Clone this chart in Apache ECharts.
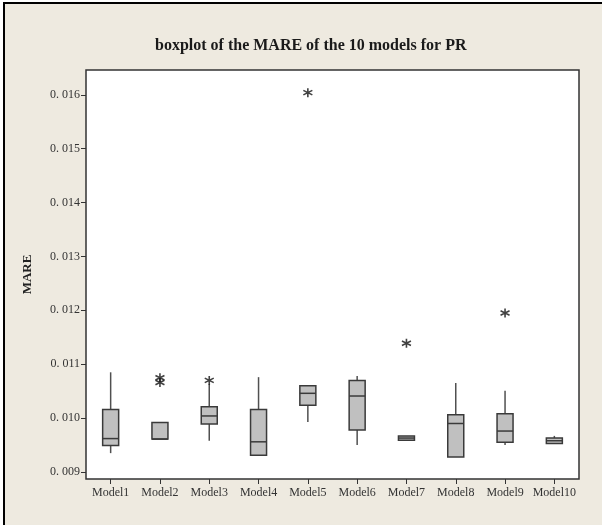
<!DOCTYPE html>
<html>
<head>
<meta charset="utf-8">
<script src="https://cdn.jsdelivr.net/npm/echarts@6/dist/echarts.min.js"></script>
<style>
  html, body { margin: 0; padding: 0; background: #ffffff; }
  #frame {
    position: absolute; left: 3px; top: 2px; width: 599px; height: 523px;
    border-left: 2px solid #000; border-top: 2px solid #000; background: #eeeae0;
  }
  #chart { position: absolute; left: -5px; top: -4px; width: 602px; height: 525px; }
</style>
</head>
<body>
<div id="frame"><div id="chart"></div></div>
<script>
// Model names along the x axis
const models = ['Model1', 'Model2', 'Model3', 'Model4', 'Model5',
                'Model6', 'Model7', 'Model8', 'Model9', 'Model10'];
// Five-number summaries of MARE per model: lower whisker, Q1, median, Q3, upper whisker
const whiskerLow  = [0.00935, 0.00961, 0.00958, 0.00931, 0.00993, 0.00950, 0.00959, 0.00928, 0.00950, 0.00953];
const quart1      = [0.00949, 0.00961, 0.00989, 0.00931, 0.01024, 0.00978, 0.00959, 0.00928, 0.00955, 0.00953];
const medians     = [0.00962, 0.00961, 0.01004, 0.00956, 0.01046, 0.01041, 0.00963, 0.00990, 0.00976, 0.00958];
const quart3      = [0.01016, 0.00992, 0.01021, 0.01016, 0.01060, 0.01070, 0.00967, 0.01006, 0.01008, 0.00963];
const whiskerHigh = [0.01085, 0.00992, 0.01063, 0.01076, 0.01060, 0.01078, 0.00967, 0.01065, 0.01051, 0.00967];
// Outliers: model index and MARE value
const outlierModel = [1, 1, 2, 4, 6, 8];
const outlierValue = [0.01075, 0.01066, 0.01070, 0.01604, 0.01139, 0.01195];
// Y axis range and labelled tick values
const yMin = 0.00887, yMax = 0.01646;
const yTicks = [0.009, 0.010, 0.011, 0.012, 0.013, 0.014, 0.015, 0.016];

const boxData = models.map((m, i) =>
  [i, whiskerLow[i], quart1[i], medians[i], quart3[i], whiskerHigh[i]]);
const outlierData = outlierModel.map((m, i) => [m, outlierValue[i]]);

const BOX_W = 16;
// Minitab-style box: whiskers without caps, filled box, median bar
function renderBox(params, api) {
  const i = api.value(0);
  const pLow = api.coord([i, api.value(1)]);
  const pQ1 = api.coord([i, api.value(2)]);
  const pMed = api.coord([i, api.value(3)]);
  const pQ3 = api.coord([i, api.value(4)]);
  const pHigh = api.coord([i, api.value(5)]);
  const cx = pQ1[0], h = BOX_W / 2;
  const whisker = { stroke: '#505050', lineWidth: 1.5 };
  const edge = { stroke: '#3a3a3a', lineWidth: 1.5 };
  return {
    type: 'group',
    children: [
      { type: 'line', shape: { x1: cx, y1: pQ3[1], x2: cx, y2: pHigh[1] }, style: whisker },
      { type: 'line', shape: { x1: cx, y1: pQ1[1], x2: cx, y2: pLow[1] }, style: whisker },
      { type: 'rect',
        shape: { x: cx - h, y: pQ3[1], width: BOX_W, height: Math.max(pQ1[1] - pQ3[1], 1) },
        style: Object.assign({ fill: '#c0c0c0' }, edge) },
      { type: 'line', shape: { x1: cx - h, y1: pMed[1], x2: cx + h, y2: pMed[1] }, style: edge }
    ]
  };
}

const serif = '"Liberation Serif", "Times New Roman", serif';
const chart = echarts.init(document.getElementById('chart'), null, { renderer: 'canvas' });
chart.setOption({
  backgroundColor: 'transparent',
  animation: false,
  title: {
    text: 'boxplot of the MARE of the 10 models for PR',
    left: 150, top: 33,
    textStyle: { fontFamily: serif, fontWeight: 'bold', fontSize: 16, color: '#1a1a1a' }
  },
  grid: { left: 86, top: 70, right: 23, bottom: 46, show: true,
          borderColor: '#333', borderWidth: 1.5, backgroundColor: '#ffffff' },
  xAxis: {
    type: 'category', data: models, boundaryGap: true,
    axisLine: { show: false },
    axisTick: { show: true, alignWithLabel: true, interval: 0, length: 5, lineStyle: { color: '#333' } },
    axisLabel: { fontFamily: serif, fontSize: 12, color: '#333', margin: 8, interval: 0 },
    splitLine: { show: false }
  },
  yAxis: {
    type: 'value', min: yMin, max: yMax,
    name: 'MARE', nameLocation: 'middle', nameGap: 52,
    nameTextStyle: { fontFamily: serif, fontWeight: 'bold', fontSize: 13, color: '#222' },
    axisLine: { show: false },
    axisTick: { show: true, length: 5, lineStyle: { color: '#333' }, customValues: yTicks },
    axisLabel: {
      fontFamily: serif, fontSize: 12, color: '#333', margin: 6, customValues: yTicks,
      formatter: v => v.toFixed(3).replace('.', '. ')
    },
    splitLine: { show: false }
  },
  series: [
    {
      type: 'custom', data: boxData, renderItem: renderBox,
      encode: { x: 0, y: [1, 2, 3, 4, 5] }
    },
    {
      type: 'scatter', data: outlierData,
      symbol: 'path://M0,-5L0,5M-4.33,-2.5L4.33,2.5M-4.33,2.5L4.33,-2.5',
      symbolSize: 9,
      itemStyle: { color: 'rgba(0,0,0,0)', borderColor: '#111', borderWidth: 1.6 }
    }
  ]
});
</script>
</body>
</html>
